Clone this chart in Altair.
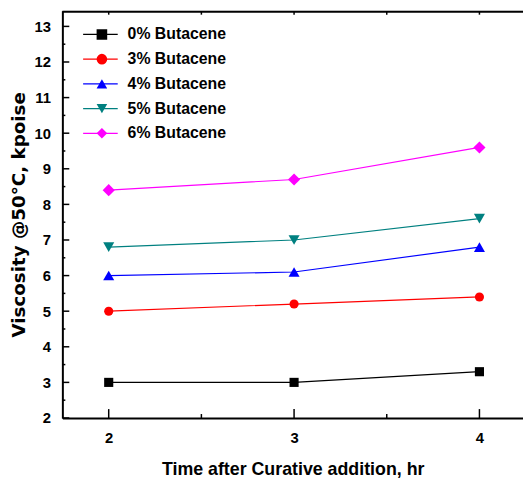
import altair as alt
import pandas as pd

# ---- data ----
series = ["0% Butacene", "3% Butacene", "4% Butacene", "5% Butacene", "6% Butacene"]
times = [2, 3, 4]
v0 = [3.0, 3.0, 3.3]
v3 = [5.0, 5.2, 5.4]
v4 = [6.0, 6.1, 6.8]
v5 = [6.8, 7.0, 7.6]
v6 = [8.4, 8.7, 9.6]
colors = ["#000000", "#ff0000", "#0000ff", "#008080", "#ff00ff"]
shapes = ["square", "circle", "triangle-up", "triangle-down", "diamond"]

x_ticks = [2, 3, 4]
x_minor = [2.5, 3.5]
y_ticks = [2, 3, 4, 5, 6, 7, 8, 9, 10, 11, 12, 13]
y_minor = [2.5, 3.5, 4.5, 5.5, 6.5, 7.5, 8.5, 9.5, 10.5, 11.5, 12.5]

rows = []
for name, vals in zip(series, [v0, v3, v4, v5, v6]):
    for t, v in zip(times, vals):
        rows.append({"time": t, "viscosity": v, "series": name})
df = pd.DataFrame(rows)

W, H = 466, 412
FONT = "Liberation Sans"
xs = alt.Scale(domain=[1.75, 4.235], nice=False, zero=False)
ys = alt.Scale(domain=[2, 13.44], nice=False, zero=False)

x_axis = alt.Axis(
    values=x_ticks, format="d", tickSize=0, ticks=False, labelPadding=13, labelFlush=False,
    labelFont=FONT, labelFontWeight="bold", labelFontSize=15, labelColor="black",
    domainColor="black", domainWidth=2, grid=False,
    title="Time after Curative addition, hr", titleFont=FONT, titleFontSize=18,
    titleFontWeight="bold", titleColor="black", titlePadding=15,
)
y_axis = alt.Axis(
    values=y_ticks, format="d", tickSize=0, ticks=False, labelPadding=12,
    labelFont=FONT, labelFontWeight="bold", labelFontSize=15, labelColor="black",
    domainColor="black", domainWidth=2, grid=False,
    title="Viscosity @50°C, kpoise", titleFont="DejaVu Sans", titleFontSize=18.5,
    titleFontWeight="bold", titleColor="black", titlePadding=6,
)

X = lambda: alt.X("time:Q", scale=xs, axis=x_axis)
Y = lambda: alt.Y("viscosity:Q", scale=ys, axis=y_axis)

legend_common = dict(
    orient="none", title=None, padding=0, labelFont=FONT, labelFontWeight="bold",
    labelFontSize=16, labelColor="black", rowPadding=9, clipHeight=16,
)
legend_b = alt.Legend(legendX=32, legendY=16, symbolSize=115, symbolOpacity=1,
                      labelOffset=22, labelExpr="''", **legend_common)

base = alt.Chart(df)
lines = base.mark_line(strokeWidth=1.2).encode(
    x=X(), y=Y(),
    stroke=alt.Stroke(
        "series:N", scale=alt.Scale(domain=series, range=colors),
        legend=alt.Legend(legendX=20, legendY=16, symbolType="stroke", symbolSize=1225,
                          symbolStrokeWidth=1.2, labelOffset=9, **legend_common),
    ),
)


def point_layer(names, size):
    return base.transform_filter(
        alt.FieldOneOfPredicate(field="series", oneOf=names)
    ).mark_point(filled=True, opacity=1, size=size).encode(
        x=X(), y=Y(),
        fill=alt.Fill("series:N", scale=alt.Scale(range=colors), legend=legend_b),
        shape=alt.Shape("series:N", scale=alt.Scale(range=shapes), legend=legend_b),
    )


points_a = point_layer(series[:2], 85)
points_b = point_layer(series[2:4], 125)
points_c = point_layer(series[4:], 150)

# inward ticks
tick_style = dict(color="black", strokeWidth=1.5)
ymaj = alt.Chart(pd.DataFrame({"viscosity": y_ticks})).mark_rule(**tick_style).encode(
    y=Y(), x=alt.value(0), x2=alt.value(7))
ymin = alt.Chart(pd.DataFrame({"viscosity": y_minor})).mark_rule(**tick_style).encode(
    y=Y(), x=alt.value(0), x2=alt.value(3))
xmaj = alt.Chart(pd.DataFrame({"time": x_ticks})).mark_rule(**tick_style).encode(
    x=X(), y=alt.value(H), y2=alt.value(H - 9))
xmin = alt.Chart(pd.DataFrame({"time": x_minor})).mark_rule(**tick_style).encode(
    x=X(), y=alt.value(H), y2=alt.value(H - 4))
top_line = alt.Chart(alt.Data(values=[{}])).mark_rule(color="black", strokeWidth=2).encode(
    x=alt.value(0), x2=alt.value(W), y=alt.value(1))
top_ticks = alt.Chart(pd.DataFrame({"time": x_ticks + x_minor})).mark_rule(**tick_style).encode(
    x=X(), y=alt.value(1), y2=alt.value(4))

chart = alt.layer(lines, points_a, points_b, points_c, ymaj, ymin, xmaj, xmin,
                  top_line, top_ticks).properties(
    width=W, height=H, autosize="none",
    padding={"left": 55, "top": 0, "right": 0, "bottom": 62},
).configure_view(stroke=None).configure(background="white")

chart.save("out.html", embed_options={"renderer": "svg", "actions": False})
